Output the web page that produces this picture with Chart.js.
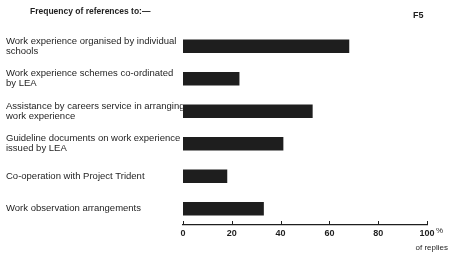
<!DOCTYPE html>
<html>
<head>
<meta charset="utf-8">
<script src="https://cdn.jsdelivr.net/npm/chart.js@4.4.0/dist/chart.umd.min.js"></script>
<style>
  html, body { margin: 0; padding: 0; background: #fff; }
  #wrap { width: 450px; height: 255px; position: relative; }
</style>
</head>
<body>
<div id="wrap"><canvas id="chart"></canvas></div>
<script>
// data
let categories = [
	["Work experience organised by individual", "schools"],
	["Work experience schemes co-ordinated", "by LEA"],
	["Assistance by careers service in arranging", "work experience"],
	["Guideline documents on work experience", "issued by LEA"],
	"Co-operation with Project Trident",
	"Work observation arrangements"
];
let percentReplies = [68, 23, 53, 41, 18, 33];
let tickValues = [0, 20, 40, 60, 80, 100];

let ink = '#1e1e1e';
let fontFamily = '"Liberation Sans", Arial, sans-serif';

// title, figure number, upward ticks and unit text
let extrasPlugin = {
	id: 'extras',
	afterDraw: function(chart){
		let ctx = chart.ctx;
		let xScale = chart.scales.x;
		let axisY = chart.chartArea.bottom;
		ctx.save();
		ctx.strokeStyle = ink;
		ctx.lineWidth = 1;
		tickValues.forEach(function(v){
			let px = Math.round(xScale.getPixelForValue(v)) + 0.5;
			ctx.beginPath();
			ctx.moveTo(px, axisY);
			ctx.lineTo(px, axisY - 4);
			ctx.stroke();
		});
		ctx.fillStyle = ink;
		ctx.textBaseline = 'middle';
		ctx.font = 'bold 8.5px ' + fontFamily;
		ctx.fillText('Frequency of references to:\u2014', 30, 12);
		ctx.font = 'bold 9px ' + fontFamily;
		ctx.fillText('F5', 413, 16);
		ctx.font = '8px ' + fontFamily;
		let px100 = xScale.getPixelForValue(100);
		ctx.fillText('%', px100 + 9, 231);
		ctx.textAlign = 'right';
		ctx.fillText('of replies', 448, 248);
		ctx.restore();
	}
};

new Chart(document.getElementById('chart'), {
	type: 'bar',
	data: {
		labels: categories,
		datasets: [{
			data: percentReplies,
			backgroundColor: ink,
			borderWidth: 0,
			barThickness: 13
		}]
	},
	options: {
		indexAxis: 'y',
		responsive: true,
		maintainAspectRatio: false,
		animation: false,
		layout: { padding: { left: 6, right: 23, top: 30, bottom: 0 } },
		plugins: {
			legend: { display: false },
			tooltip: { enabled: false }
		},
		scales: {
			x: {
				min: 0,
				max: 100,
				afterFit: function(scale){ scale.height = 30; },
				afterBuildTicks: function(scale){
					scale.ticks = tickValues.map(function(v){ return { value: v }; });
				},
				grid: { display: false, drawTicks: false },
				border: { display: true, color: ink, width: 1.3 },
				ticks: {
					padding: 3,
					color: ink,
					font: { family: fontFamily, size: 9, weight: 'bold' }
				}
			},
			y: {
				afterFit: function(scale){ scale.width = 177; },
				grid: { display: false, drawTicks: false },
				border: { display: false },
				ticks: {
					crossAlign: 'far',
					color: ink,
					autoSkip: false,
					font: { family: fontFamily, size: 9.5, lineHeight: 1.05 }
				}
			}
		}
	},
	plugins: [extrasPlugin]
});
</script>
</body>
</html>
